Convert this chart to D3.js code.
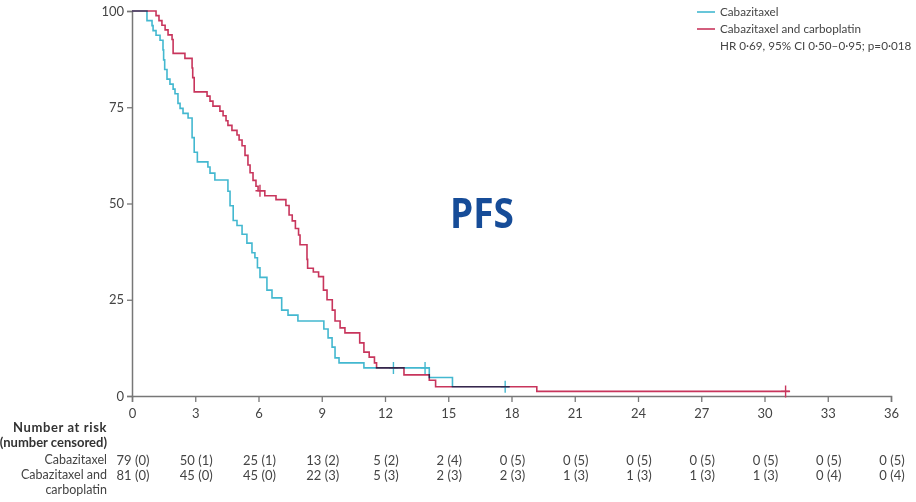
<!DOCTYPE html>
<html>
<head>
<meta charset="utf-8">
<script src="https://cdn.jsdelivr.net/npm/d3@7/dist/d3.min.js"></script>
<style>
  html, body { margin: 0; padding: 0; background: #fff; }
  svg { display: block; }
  text { font-family: Lato, "Open Sans", sans-serif; fill: #444; }
</style>
</head>
<body>
<svg id="chart" width="916" height="502"></svg>
<script>
// Month ticks and survival ticks
const monthTicks = [0, 3, 6, 9, 12, 15, 18, 21, 24, 27, 30, 33, 36];
const pctTicks = [0, 25, 50, 75, 100];

// Cabazitaxel: event times (months) and survival (%) after each event
const cabaTimes = [0.71, 0.95, 1.0, 1.14, 1.33, 1.47, 1.5, 1.55, 1.66, 1.8, 1.95, 2.04, 2.18, 2.28, 2.42, 2.66,
  2.85, 2.95, 3.1, 3.6, 3.7, 3.93, 4.55, 4.65, 4.8, 4.98, 5.22, 5.45, 5.69, 5.83, 5.95, 6.07, 6.4, 6.64,
  7.1, 7.4, 7.87, 9.1, 9.3, 9.49, 9.63, 9.82, 11.0, 14.1, 15.2];
const cabaSurv = [97.5, 96.2, 94.9, 93.7, 92.4, 89.9, 87.3, 84.8, 82.3, 81.0, 79.7, 78.5, 76.0, 74.7, 73.4, 72.2,
  67.1, 63.3, 60.8, 59.5, 57.9, 56.1, 53.2, 49.4, 45.6, 44.3, 42.0, 39.7, 37.2, 35.9, 33.3, 30.8, 27.5, 25.5,
  22.3, 21.0, 19.5, 17.4, 15.1, 12.7, 9.9, 8.6, 7.3, 4.8, 2.4];
const cabaCensored = [12.4, 13.9, 17.7];
const cabaLastFollowUp = 17.9;

// Cabazitaxel and carboplatin
const comboTimes = [1.14, 1.28, 1.42, 1.57, 1.71, 1.9, 1.95, 2.51, 2.85, 2.88, 2.95, 3.56, 3.7, 3.84, 4.17, 4.32,
  4.46, 4.55, 4.74, 4.98, 5.08, 5.22, 5.36, 5.5, 5.6, 5.74, 5.88, 5.98, 6.3, 6.83, 7.3, 7.45, 7.6, 7.75, 7.9,
  7.97, 8.3, 8.33, 8.6, 8.85, 9.08, 9.25, 9.5, 9.63, 9.87, 10.1, 10.8, 11.0, 11.25, 11.5, 11.6, 12.9, 14.1,
  14.4, 19.2];
const comboSurv = [98.8, 97.5, 96.3, 95.1, 93.8, 92.6, 89.0, 87.7, 85.2, 82.7, 79.0, 77.9, 76.6, 75.3, 74.0, 72.8,
  71.5, 70.3, 69.0, 67.8, 66.5, 65.0, 62.5, 60.0, 58.0, 56.0, 54.5, 53.3, 52.0, 51.0, 49.5, 47.0, 45.5, 43.5, 41.8,
  39.3, 35.5, 33.2, 32.2, 31.0, 27.5, 25.0, 22.3, 19.5, 17.7, 16.4, 13.8, 11.4, 10.1, 8.6, 7.3, 5.5, 4.1,
  2.4, 1.2];
const comboCensored = [6.07, 31.0];
const comboLastFollowUp = 31.2;

// Number at risk (number censored)
const cabaAtRisk = ["79 (0)", "50 (1)", "25 (1)", "13 (2)", "5 (2)", "2 (4)", "0 (5)", "0 (5)", "0 (5)", "0 (5)", "0 (5)", "0 (5)", "0 (5)"];
const comboAtRisk = ["81 (0)", "45 (0)", "45 (0)", "22 (3)", "5 (3)", "2 (3)", "2 (3)", "1 (3)", "1 (3)", "1 (3)", "1 (3)", "0 (4)", "0 (4)"];

const seriesNames = ["Cabazitaxel", "Cabazitaxel and carboplatin"];
const statsText = "HR 0·69, 95% CI 0·50–0·95; p=0·018";

const cyan = "#43b8d0";
const crimson = "#c8355c";
const axisGrey = "#777";

const svg = d3.select("#chart");
const x = d3.scaleLinear().domain([0, 36]).range([132, 891]);
const y = d3.scaleLinear().domain([0, 100]).range([396, 11]);

// Axes
const yAxis = svg.append("g").attr("transform", `translate(${x(0)},0)`)
  .call(d3.axisLeft(y).tickValues(pctTicks).tickSize(5).tickPadding(3));
const xAxis = svg.append("g").attr("transform", `translate(0,${y(0)})`)
  .call(d3.axisBottom(x).tickValues(monthTicks).tickSize(6).tickPadding(7));
[xAxis, yAxis].forEach(g => {
  g.select(".domain").attr("stroke", axisGrey).attr("stroke-width", 1.5);
  g.selectAll(".tick line").attr("stroke", axisGrey).attr("stroke-width", 1.3);
  g.selectAll(".tick text").attr("fill", "#444").style("font-size", "13px")
    .style("font-family", "Lato, sans-serif");
});

// Kaplan-Meier step curves
function stepPoints(times, surv, lastT) {
  const pts = [[0, 100]];
  times.forEach((t, i) => pts.push([t, surv[i]]));
  pts.push([lastT, surv[surv.length - 1]]);
  return pts;
}
function survAt(times, surv, t) {
  let s = 100;
  times.forEach((ti, i) => { if (ti <= t) s = surv[i]; });
  return s;
}
const line = d3.line().x(d => x(d[0])).y(d => y(d[1])).curve(d3.curveStepAfter);

const curves = svg.append("g").style("isolation", "isolate");
const arms = [
  { times: comboTimes, surv: comboSurv, censored: comboCensored, last: comboLastFollowUp, color: crimson },
  { times: cabaTimes, surv: cabaSurv, censored: cabaCensored, last: cabaLastFollowUp, color: cyan }
];
arms.forEach(a => {
  const g = curves.append("g").style("mix-blend-mode", "multiply");
  g.append("path")
    .attr("d", line(stepPoints(a.times, a.surv, a.last)))
    .attr("fill", "none").attr("stroke", a.color).attr("stroke-width", 1.6);
  a.censored.forEach(t => {
    const cx = x(t), cy = y(survAt(a.times, a.surv, t));
    g.append("path")
      .attr("d", `M${cx - 4.5},${cy}H${cx + 4.5}M${cx},${cy - 6}V${cy + 6}`)
      .attr("stroke", a.color).attr("stroke-width", 1.4);
  });
});

// Legend
const legend = svg.append("g").style("font-size", "11.7px");
[cyan, crimson].forEach((c, i) => {
  const ly = 12 + i * 17;
  legend.append("line").attr("x1", 697).attr("x2", 715).attr("y1", ly).attr("y2", ly)
    .attr("stroke", c).attr("stroke-width", 1.6);
  legend.append("text").attr("x", 720).attr("y", ly).attr("dy", "0.35em").text(seriesNames[i]);
});
legend.append("text").attr("x", 720).attr("y", 46).attr("dy", "0.35em").text(statsText);

// Panel label
svg.append("text")
  .attr("transform", "translate(482,213) scale(0.88,1)")
  .attr("dy", "0.35em")
  .attr("text-anchor", "middle")
  .style("font-family", "'Open Sans', Lato, sans-serif")
  .style("font-size", "42px").style("font-weight", "700")
  .style("fill", "#164c98").text("PFS");

// Number-at-risk table
const table = svg.append("g").style("font-size", "12.5px");
const labelX = 107;
table.append("text").attr("x", labelX).attr("y", 427).attr("dy", "0.35em")
  .attr("text-anchor", "end").style("font-weight", "700").style("font-size", "13px")
  .style("letter-spacing", "0.6px").style("fill", "#333").text("Number at risk");
table.append("text").attr("x", labelX).attr("y", 442).attr("dy", "0.35em")
  .attr("text-anchor", "end").style("font-weight", "700").style("font-size", "13px")
  .style("fill", "#333").text("(number censored)");
table.append("text").attr("x", labelX).attr("y", 460).attr("dy", "0.35em")
  .attr("text-anchor", "end").text(seriesNames[0]);
table.append("text").attr("x", labelX).attr("y", 475).attr("dy", "0.35em")
  .attr("text-anchor", "end").text("Cabazitaxel and");
table.append("text").attr("x", labelX).attr("y", 490).attr("dy", "0.35em")
  .attr("text-anchor", "end").text("carboplatin");
[[cabaAtRisk, 460], [comboAtRisk, 475]].forEach(([row, ry]) => {
  table.selectAll(null).data(row).enter().append("text")
    .attr("x", (d, i) => x(monthTicks[i]) + 1)
    .attr("y", ry).attr("dy", "0.35em")
    .style("font-size", "13px")
    .attr("text-anchor", "middle").text(d => d);
});
</script>
</body>
</html>
